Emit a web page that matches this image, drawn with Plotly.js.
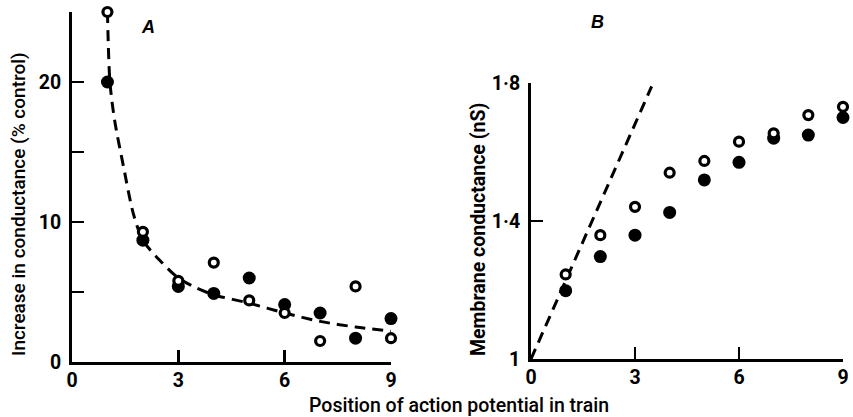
<!DOCTYPE html>
<html>
<head>
<meta charset="utf-8">
<script src="https://cdn.plot.ly/plotly-3.0.1.min.js"></script>
<style>html,body{margin:0;padding:0;background:#fff;}#chart{width:853px;height:417px;}</style>
</head>
<body>
<div id="chart"></div>
<script>
// Panel A: increase in conductance (% control)
const positions = [1, 2, 3, 4, 5, 6, 7, 8, 9];
const aFilled = [20, 8.7, 5.4, 4.9, 6.0, 4.1, 3.5, 1.7, 3.1];
const aOpen = [25, 9.3, 5.8, 7.1, 4.4, 3.5, 1.5, 5.4, 1.7];
const aCurveX = [1.0, 1.07, 1.2, 1.45, 1.73, 2.0, 2.5, 3.0, 3.5, 4.0, 5.0, 6.0, 7.0, 8.0, 9.0];
const aCurveY = [25, 20, 17.3, 14, 10.6, 8.7, 7.2, 6.0, 5.3, 4.8, 4.2, 3.5, 2.9, 2.5, 2.2];

// Panel B: membrane conductance (nS)
const bFilled = [1.198, 1.297, 1.359, 1.425, 1.519, 1.570, 1.640, 1.649, 1.700];
const bOpen = [1.245, 1.359, 1.441, 1.540, 1.574, 1.630, 1.654, 1.707, 1.731];
const bLineX = [0, 3.48];
const bLineY = [1.0, 1.79];

// Tick labels
const xTickVals = [0, 3, 6, 9];
const xTickText = ['0', '3', '6', '9'];
const aYTickVals = [0, 5, 10, 15, 20, 25];
const aYTickText = ['0', '', '10', '', '20', ''];
const bYTickVals = [1.0, 1.4, 1.8];
const bYTickText = ['1', '1·4', '1·8'];

const FAM = 'Roboto, Liberation Sans, Arial, sans-serif';
const tickFont = {family: FAM, size: 19.5, weight: 700, color: '#000'};

const dash = {color: '#000', width: 3, dash: '11px,7px'};
const filledMarker = {symbol: 'circle', size: 13, color: '#000'};
const openMarker = {symbol: 'circle', size: 9, color: '#fff', line: {color: '#000', width: 3.2}};

const traces = [
  {x: aCurveX, y: aCurveY, xaxis: 'x', yaxis: 'y', mode: 'lines', line: Object.assign({shape: 'spline', smoothing: 0.8}, dash), hoverinfo: 'skip', showlegend: false, cliponaxis: false},
  {x: positions, y: aFilled, xaxis: 'x', yaxis: 'y', mode: 'markers', marker: filledMarker, showlegend: false, cliponaxis: false},
  {x: positions, y: aOpen, xaxis: 'x', yaxis: 'y', mode: 'markers', marker: openMarker, showlegend: false, cliponaxis: false},
  {x: bLineX, y: bLineY, xaxis: 'x2', yaxis: 'y2', mode: 'lines', line: dash, hoverinfo: 'skip', showlegend: false, cliponaxis: false},
  {x: positions, y: bFilled, xaxis: 'x2', yaxis: 'y2', mode: 'markers', marker: filledMarker, showlegend: false, cliponaxis: false},
  {x: positions, y: bOpen, xaxis: 'x2', yaxis: 'y2', mode: 'markers', marker: openMarker, showlegend: false, cliponaxis: false}
];

const W = 853, H = 417;
const px = v => v / W;
const py = v => 1 - v / H;

const axisCommon = {
  showline: true, linewidth: 3, linecolor: '#000', mirror: false,
  showgrid: false, zeroline: false,
  ticks: 'inside', ticklen: 12, tickwidth: 2.5, tickcolor: '#000',
  tickfont: tickFont, fixedrange: true
};

const layout = {
  width: W, height: H,
  margin: {l: 0, r: 0, t: 0, b: 0},
  paper_bgcolor: '#fff', plot_bgcolor: '#fff',
  showlegend: false,
  xaxis: Object.assign({}, axisCommon, {domain: [px(72), px(391)], range: [0, 9], anchor: 'y', tickmode: 'array', tickvals: xTickVals, ticktext: xTickText, ticklabelstandoff: -1}),
  yaxis: Object.assign({}, axisCommon, {domain: [py(362), py(12)], range: [0, 25], anchor: 'x', tickmode: 'array', tickvals: aYTickVals, ticktext: aYTickText, ticklabelstandoff: 4}),
  xaxis2: Object.assign({}, axisCommon, {domain: [px(531), px(843)], range: [0, 9], anchor: 'y2', tickmode: 'array', tickvals: xTickVals, ticktext: xTickText, ticklabelstandoff: -1}),
  yaxis2: Object.assign({}, axisCommon, {domain: [py(359), py(83)], range: [1, 1.8], anchor: 'x2', tickmode: 'array', tickvals: bYTickVals, ticktext: bYTickText, ticklabelstandoff: 4}),
  annotations: [
    {text: 'Position of action potential in train', xref: 'paper', yref: 'paper', x: px(459), y: py(405), xanchor: 'center', yanchor: 'middle', showarrow: false, font: {family: FAM, size: 19.5, weight: 500, color: '#000'}},
    {text: 'Increase in conductance (% control)', xref: 'paper', yref: 'paper', x: px(18), y: py(204), textangle: -90, xanchor: 'center', yanchor: 'middle', showarrow: false, font: {family: FAM, size: 19, weight: 500, color: '#000'}},
    {text: 'Membrane conductance (nS)', xref: 'paper', yref: 'paper', x: px(478), y: py(230), textangle: -90, xanchor: 'center', yanchor: 'middle', showarrow: false, font: {family: FAM, size: 19.5, weight: 700, color: '#000'}},
    {text: '<i>A</i>', xref: 'paper', yref: 'paper', x: px(148), y: py(27), xanchor: 'center', yanchor: 'middle', showarrow: false, font: {family: 'Liberation Sans, Arial, sans-serif', size: 18, weight: 700, color: '#000'}},
    {text: '<i>B</i>', xref: 'paper', yref: 'paper', x: px(597), y: py(22), xanchor: 'center', yanchor: 'middle', showarrow: false, font: {family: 'Liberation Sans, Arial, sans-serif', size: 18, weight: 700, color: '#000'}}
  ]
};

Plotly.newPlot('chart', traces, layout, {staticPlot: true, displayModeBar: false});
</script>
</body>
</html>
